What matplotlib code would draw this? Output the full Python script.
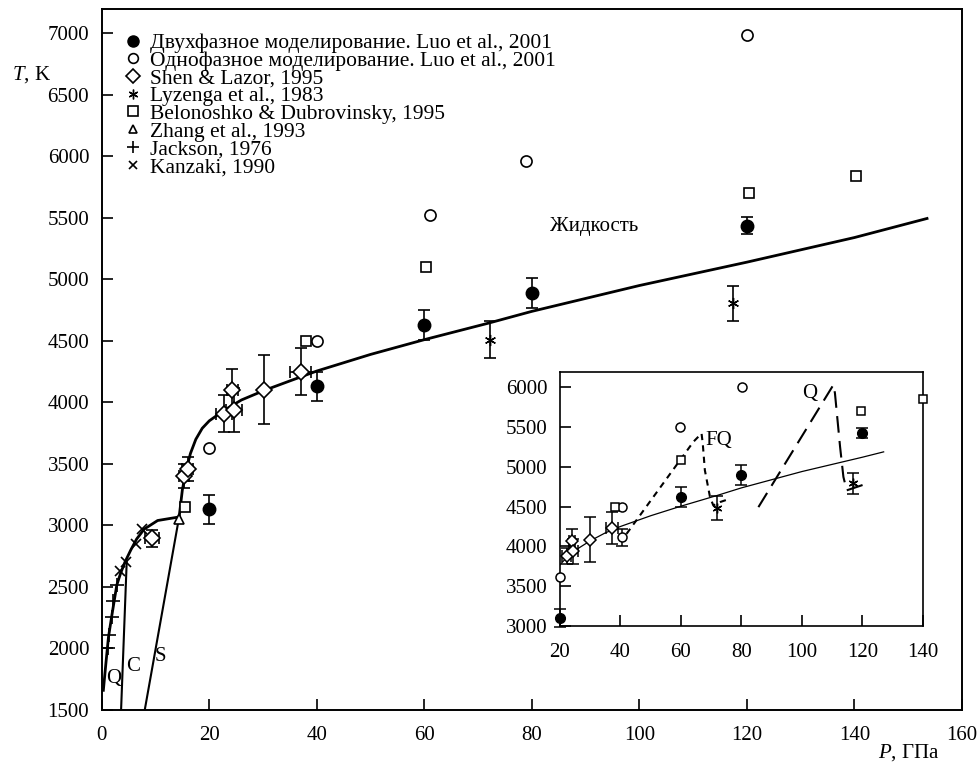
import numpy as np
import matplotlib.pyplot as plt
from matplotlib.lines import Line2D

plt.rcParams['font.family'] = ['Liberation Serif', 'DejaVu Serif']
plt.rcParams['font.size'] = 15
plt.rcParams['mathtext.fontset'] = 'custom'
plt.rcParams['mathtext.it'] = 'Liberation Serif:italic'
plt.rcParams['mathtext.rm'] = 'Liberation Serif'

# --- data (P in GPa, T in K) ---
two_phase_P = [20, 40, 60, 80, 120]
two_phase_T = [3130, 4130, 4630, 4890, 5435]
two_phase_err = [120, 120, 120, 125, 70]

one_phase_P = [20, 40, 61, 79, 120]
one_phase_T = [3630, 4500, 5520, 5965, 6990]

shen_P = [9.4, 15.3, 16.0, 22.8, 24.3, 24.6, 30.2, 37.0]
shen_T = [2894, 3402, 3460, 3908, 4102, 3940, 4102, 4250]
shen_Terr = [70, 100, 100, 150, 170, 180, 280, 190]
shen_Perr = [1.3, 1.0, 1.0, 1.5, 1.0, 1.5, 0.0, 2.0]

lyz_P = [72.3, 117.4]
lyz_T = [4510, 4805]
lyz_err = [150, 145]

belo_P = [15.5, 38, 60.3, 120.4, 140.3]
belo_T = [3150, 4500, 5104, 5699, 5840]

zhang_P = [14.3]
zhang_T = [3054]

jackson_P = [1.23, 1.42, 1.86, 2.04, 2.79]
jackson_T = [2001, 2109, 2257, 2387, 2515]

kanzaki_P = [3.4, 4.6, 6.3, 7.4]
kanzaki_T = [2630, 2705, 2853, 2969]

# melting curves
liq_P = [14.4, 15.0, 15.7, 16.5, 17.5, 18.7, 20.0, 22.8, 26, 30.2, 35.2, 40, 50, 60, 72, 80, 100, 120, 140, 153.5]
liq_T = [3069, 3290, 3450, 3585, 3700, 3790, 3850, 3937, 4020, 4097, 4178, 4255, 4390, 4510, 4645, 4740, 4950, 5140, 5340, 5495]

q_P = [0.3, 0.8, 1.25, 1.85, 2.8, 3.5, 4.3, 5.4, 6.5, 7.9, 10.4, 14.4]
q_T = [1660, 1890, 2090, 2260, 2515, 2610, 2700, 2800, 2890, 2970, 3040, 3069]

c_P = [3.6, 4.65]
c_T = [1500, 2708]

s_P = [8.0, 14.4]
s_T = [1500, 3069]

# inset data
in_two_P = [20, 60, 80, 120]
in_two_T = [3105, 4619, 4893, 5427]
in_two_err = [115, 125, 127, 60]

in_one_P = [20, 40.4, 59.7, 80.1]
in_one_T = [3618, 4493, 5503, 6000]
in_one_err_P = [40.4]
in_one_err_T = [4114]
in_one_err = [110]

in_belo_P = [38.2, 60, 119.5, 140]
in_belo_T = [4493, 5091, 5701, 5849]

in_lyz_P = [72, 116.8]
in_lyz_T = [4483, 4790]
in_lyz_err = [150, 137]

in_shen_P = [22.2, 23.9, 24.4, 29.9, 37.1]
in_shen_T = [3884, 4073, 3938, 4085, 4228]
in_shen_Terr = [100, 150, 160, 280, 200]
in_shen_Perr = [1.5, 1.0, 1.5, 0.0, 2.0]

in_line_P = [20, 22, 25, 30, 35, 40, 50, 60, 72, 80, 100, 120, 127]
in_line_T = [3770, 3850, 3950, 4070, 4170, 4250, 4385, 4505, 4640, 4735, 4940, 5120, 5187]

fq_P = [42.0, 59.7, 64.1, 66.8, 67.2, 67.9, 69.6, 70.7, 72.9, 76.2]
fq_T = [4157, 5083, 5313, 5419, 5293, 4956, 4619, 4514, 4556, 4599]

qd_P = [85.6, 110.4, 110.9, 112.6, 113.7, 114.8, 118.1, 121.4]
qd_T = [4493, 6029, 5924, 5250, 4872, 4704, 4746, 4788]

fig = plt.figure(figsize=(9.8, 7.64), dpi=100)
ax = fig.add_axes([0.1038, 0.0707, 0.8778, 0.9171])

ax.plot(liq_P, liq_T, color='k', lw=2.0, zorder=2)
ax.plot(q_P, q_T, color='k', lw=2.0, zorder=2)
ax.plot(c_P, c_T, color='k', lw=1.5, zorder=2)
ax.plot(s_P, s_T, color='k', lw=1.5, zorder=2)

eb = dict(fmt='none', ecolor='k', elinewidth=1.2, capsize=4.5, capthick=1.2, zorder=3)
ax.errorbar(two_phase_P, two_phase_T, yerr=two_phase_err, **eb)
ax.errorbar(shen_P, shen_T, yerr=shen_Terr, xerr=shen_Perr, **eb)
ax.errorbar(lyz_P, lyz_T, yerr=lyz_err, **eb)

mk = dict(ls='none', color='k', zorder=4)
ax.plot(two_phase_P, two_phase_T, marker='o', ms=9, mfc='k', **mk)
ax.plot(one_phase_P, one_phase_T, marker='o', ms=8, mfc='w', mew=1.2, **mk)
ax.plot(shen_P, shen_T, marker='D', ms=8.5, mfc='w', mew=1.2, **mk)
ax.plot(lyz_P, lyz_T, marker=(6, 2, 0), ms=8, mew=1.0, **mk)
ax.plot(belo_P, belo_T, marker='s', ms=7.5, mfc='w', mew=1.2, **mk)
ax.plot(zhang_P, zhang_T, marker='^', ms=7, mfc='w', mew=1.2, **mk)
ax.plot(jackson_P, jackson_T, marker='+', ms=10, mew=1.2, **mk)
ax.plot(kanzaki_P, kanzaki_T, marker='x', ms=7, mew=1.2, **mk)

ax.text(83.4, 5430, 'Жидкость', ha='left', va='center')
ax.text(2.2, 1757, 'Q', ha='center', va='center')
ax.text(5.8, 1851, 'C', ha='center', va='center')
ax.text(10.9, 1933, 'S', ha='center', va='center')

ax.set_xlim(0, 160)
ax.set_ylim(1500, 7195)
ax.set_xticks(np.arange(0, 161, 20))
ax.set_yticks(np.arange(1500, 7001, 500))
ax.tick_params(direction='in', length=8, width=1.2, top=False, right=False, labelsize=15)
ax.tick_params(axis='x', pad=11.5)
ax.tick_params(axis='y', pad=9)
for s in ax.spines.values():
    s.set_linewidth(1.4)

fig.text(0.012, 1 - 75 / 764, '$T$, K', ha='left', va='center', fontsize=15)
fig.text(0.927, 1 - 753 / 764, '$P$, ГПа', ha='center', va='center', fontsize=15)

labels = ['Двухфазное моделирование. Luo et al., 2001',
          'Однофазное моделирование. Luo et al., 2001',
          'Shen & Lazor, 1995',
          'Lyzenga et al., 1983',
          'Belonoshko & Dubrovinsky, 1995',
          'Zhang et al., 1993',
          'Jackson, 1976',
          'Kanzaki, 1990']
handles = [Line2D([], [], marker='o', ms=8, mfc='k', **mk),
           Line2D([], [], marker='o', ms=7, mfc='w', mew=1.2, **mk),
           Line2D([], [], marker='D', ms=7, mfc='w', mew=1.2, **mk),
           Line2D([], [], marker=(6, 2, 0), ms=7, mew=1.0, **mk),
           Line2D([], [], marker='s', ms=7, mfc='w', mew=1.2, **mk),
           Line2D([], [], marker='^', ms=6, mfc='w', mew=1.2, **mk),
           Line2D([], [], marker='+', ms=8, mew=1.2, **mk),
           Line2D([], [], marker='x', ms=6, mew=1.2, **mk)]
ax.legend(handles, labels, loc='upper left', bbox_to_anchor=(0.026, 0.966),
          frameon=False, handlelength=0.8, handletextpad=0.4, labelspacing=-0.11,
          borderpad=0, borderaxespad=0, fontsize=15.5)

# --- inset ---
ins = fig.add_axes([0.5714, 0.1806, 0.3704, 0.3325])
ins.plot(in_line_P, in_line_T, color='k', lw=0.9, zorder=2)
ins.plot(fq_P, fq_T, color='k', lw=1.5, dashes=(3, 2.5), zorder=2)
ins.plot(qd_P, qd_T, color='k', lw=1.5, dashes=(8, 4), zorder=2)

eb_in = dict(fmt='none', ecolor='k', elinewidth=1.1, capsize=4, capthick=1.1, zorder=3, clip_on=False)
ins.errorbar(in_two_P, in_two_T, yerr=in_two_err, **eb_in)
ins.errorbar(in_one_err_P, in_one_err_T, yerr=in_one_err, **eb_in)
ins.errorbar(in_lyz_P, in_lyz_T, yerr=in_lyz_err, **eb_in)
ins.errorbar(in_shen_P, in_shen_T, yerr=in_shen_Terr, xerr=in_shen_Perr, **eb_in)

mk_in = dict(ls='none', color='k', zorder=4, clip_on=False)
ins.plot(in_two_P, in_two_T, marker='o', ms=7, mfc='k', **mk_in)
ins.plot(in_one_P, in_one_T, marker='o', ms=6.5, mfc='w', mew=1.1, **mk_in)
ins.plot(in_one_err_P, in_one_err_T, marker='o', ms=6.5, mfc='w', mew=1.1, **mk_in)
ins.plot(in_belo_P, in_belo_T, marker='s', ms=6, mfc='w', mew=1.1, **mk_in)
ins.plot(in_shen_P, in_shen_T, marker='D', ms=6.5, mfc='w', mew=1.1, **mk_in)
ins.plot(in_lyz_P, in_lyz_T, marker=(6, 2, 0), ms=7, mew=1.0, **mk_in)

ins.text(68.2, 5335, 'FQ', ha='left', va='center')
ins.text(102.6, 5924, 'Q', ha='center', va='center')

ins.set_xlim(20, 140)
ins.set_ylim(3000, 6190)
ins.set_xticks(np.arange(20, 141, 20))
ins.set_yticks(np.arange(3000, 6001, 500))
ins.tick_params(direction='in', length=8, width=1.2, top=False, right=False, labelsize=15)
ins.tick_params(axis='x', pad=12)
ins.tick_params(axis='y', pad=9)
for s in ins.spines.values():
    s.set_linewidth(1.2)

fig.savefig('out.png', dpi=100)
